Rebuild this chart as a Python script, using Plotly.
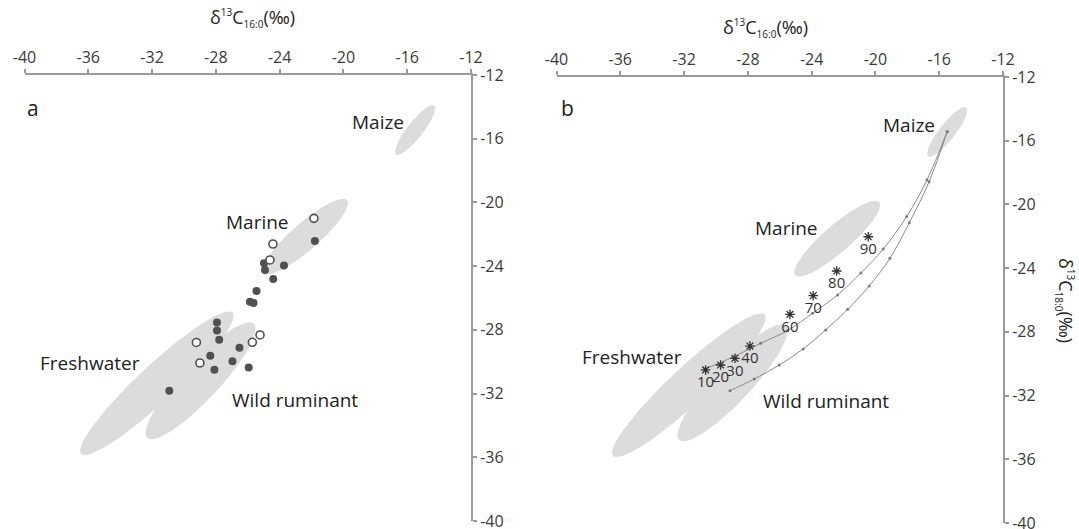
import numpy as np
import plotly.graph_objects as go

# ---------------- data ----------------
# Panel a: sample points (delta13C16:0, delta13C18:0)
open_x = [-21.85, -24.42, -24.61, -25.23, -25.71, -29.22, -29.0]
open_y = [-21.0, -22.61, -23.61, -28.32, -28.78, -28.79, -30.08]
filled_x = [-21.79, -23.73, -24.98, -24.92, -24.40, -25.45, -25.86, -25.64, -27.93,
            -27.93, -27.79, -26.52, -28.35, -26.96, -28.09, -25.94, -30.92]
filled_y = [-22.42, -23.96, -23.82, -24.24, -24.81, -25.56, -26.23, -26.31, -27.54,
            -28.04, -28.62, -29.12, -29.63, -29.97, -30.50, -30.36, -31.82]

# Reference ellipses: name, centre x, centre y, semi-major, semi-minor, angle (deg)
ell_names = ["Maize", "Marine", "Freshwater", "Wild ruminant"]
ell_cx = [-15.5, -22.4, -31.7, -28.96]
ell_cy = [-15.45, -22.15, -31.35, -31.2]
ell_a = [1.95, 3.5, 6.5, 4.9]
ell_b = [0.5, 0.85, 1.15, 1.17]
ell_ang = [52, 41, 43, 47]

# Panel b: mixing curves (0..100 % maize, 10 % steps)
mixF_x = [-30.69, -28.93, -27.20, -25.49, -23.94, -22.37, -20.91, -19.51, -18.04, -16.77, -15.50]
mixF_y = [-30.33, -29.58, -28.72, -27.91, -26.83, -25.68, -24.30, -22.80, -20.76, -18.47, -15.43]
mixW_x = [-29.12, -27.60, -26.03, -24.53, -23.12, -21.74, -20.39, -19.09, -17.88, -16.63, -15.50]
mixW_y = [-31.69, -30.96, -30.08, -29.07, -27.88, -26.58, -25.12, -23.38, -21.15, -18.57, -15.43]

# Panel b: experimental mixtures (asterisks)
ast_x = [-30.65, -29.71, -28.81, -27.87, -25.36, -23.90, -22.43, -20.45]
ast_y = [-30.39, -30.08, -29.66, -28.89, -26.90, -25.73, -24.18, -22.03]
ast_lab = ["10", "20", "30", "40", "60", "70", "80", "90"]

tick_vals = [-40, -36, -32, -28, -24, -20, -16, -12]
tick_text = ["-40", "-36", "-32", "-28", "-24", "-20", "-16", "-12"]

# ---------------- figure ----------------
FONT = "Open Sans"
ELL_COL = "#dcdcdc"
fig = go.Figure()


def ellipse(cx, cy, a, b, ang):
    t = np.linspace(0, 2 * np.pi, 120)
    th = np.deg2rad(ang)
    x = cx + a * np.cos(t) * np.cos(th) - b * np.sin(t) * np.sin(th)
    y = cy + a * np.cos(t) * np.sin(th) + b * np.sin(t) * np.cos(th)
    return x, y


for xa, ya in [("x", "y"), ("x2", "y2")]:
    for i in range(len(ell_names)):
        ex, ey = ellipse(ell_cx[i], ell_cy[i], ell_a[i], ell_b[i], ell_ang[i])
        fig.add_trace(go.Scatter(x=ex, y=ey, mode="lines", fill="toself",
                                 fillcolor=ELL_COL, line=dict(width=0),
                                 hoverinfo="skip", showlegend=False,
                                 xaxis=xa, yaxis=ya))

# panel a points
fig.add_trace(go.Scatter(x=filled_x, y=filled_y, mode="markers",
                         marker=dict(size=8, color="#505050", line=dict(width=0)),
                         showlegend=False, xaxis="x", yaxis="y"))
fig.add_trace(go.Scatter(x=open_x, y=open_y, mode="markers",
                         marker=dict(size=8, color="white", line=dict(width=1.6, color="#505050")),
                         showlegend=False, xaxis="x", yaxis="y"))

# panel b mixing lines
for mx, my in [(mixF_x, mixF_y), (mixW_x, mixW_y)]:
    fig.add_trace(go.Scatter(x=mx, y=my, mode="lines+markers",
                             line=dict(color="#8a8a8a", width=1, shape="spline"),
                             marker=dict(size=3, color="#7a7a7a"),
                             showlegend=False, xaxis="x2", yaxis="y2"))

fig.add_trace(go.Scatter(x=ast_x, y=ast_y, mode="markers+text", text=ast_lab,
                         textposition="bottom center",
                         textfont=dict(family=FONT, size=15, color="#333333"),
                         marker=dict(symbol="asterisk-open", size=8, color="#333333",
                                     line=dict(width=1.3, color="#333333")),
                         showlegend=False, xaxis="x2", yaxis="y2"))

axis_common = dict(range=[-40, -12], showgrid=False, zeroline=False, showline=True,
                   linecolor="#9a9a9a", linewidth=2, ticks="outside", ticklen=4,
                   tickcolor="#9a9a9a", tickwidth=1.5, tickvals=tick_vals, ticktext=tick_text,
                   tickfont=dict(family=FONT, size=16, color="#3a3a3a"),
                   ticklabeloverflow="allow",
                   automargin=False, fixedrange=True)

fig.update_layout(
    width=1079, height=529,
    margin=dict(l=0, r=0, t=0, b=0),
    paper_bgcolor="white", plot_bgcolor="white",
    xaxis=dict(axis_common, side="top", domain=[0.02271, 0.43652], anchor="y"),
    yaxis=dict(axis_common, side="right", domain=[0.015123, 0.858223], anchor="x"),
    xaxis2=dict(axis_common, side="top", domain=[0.51576, 0.92956], anchor="y2"),
    yaxis2=dict(axis_common, side="right", domain=[0.011342, 0.854442], anchor="x2"),
)

LAB = dict(family=FONT, size=19, color="#222222")
labels = [
    ("x", "y", -17.84, -14.95, "Maize"), ("x", "y", -25.42, -21.23, "Marine"),
    ("x", "y", -35.89, -30.08, "Freshwater"), ("x", "y", -23.04, -32.40, "Wild ruminant"),
    ("x2", "y2", -17.90, -15.01, "Maize"), ("x2", "y2", -25.55, -21.48, "Marine"),
    ("x2", "y2", -35.27, -29.58, "Freshwater"), ("x2", "y2", -23.10, -32.34, "Wild ruminant"),
]
for xr, yr, lx, ly, t in labels:
    fig.add_annotation(xref=xr, yref=yr, x=lx, y=ly, text=t, showarrow=False, font=LAB,
                       xanchor="center", yanchor="middle")

fig.add_annotation(xref="x", yref="y", x=-39.45, y=-14.09, text="a", showarrow=False,
                   font=dict(family=FONT, size=21, color="#222222"),
                   xanchor="center", yanchor="middle")
fig.add_annotation(xref="x2", yref="y2", x=-39.34, y=-13.95, text="b", showarrow=False,
                   font=dict(family=FONT, size=21, color="#222222"),
                   xanchor="center", yanchor="middle")

SMALL = '<span style="font-size:10px">'
title16 = 'δ<sup>' + SMALL + '13</span></sup>C<sub>' + SMALL + '16:0</span></sub>(‰)'
title18 = 'δ<sup>' + SMALL + '13</span></sup>C<sub>' + SMALL + '18:0</span></sub>(‰)'
TF = dict(family=FONT, size=18, color="#222222")
fig.add_annotation(xref="paper", yref="paper", x=252 / 1079, y=(529 - 18) / 529,
                   text=title16, showarrow=False, font=TF, xanchor="center", yanchor="middle")
fig.add_annotation(xref="paper", yref="paper", x=765 / 1079, y=(529 - 28) / 529,
                   text=title16, showarrow=False, font=TF, xanchor="center", yanchor="middle")
fig.add_annotation(xref="paper", yref="paper", x=1065 / 1079, y=(529 - 300) / 529,
                   text=title18, showarrow=False, font=TF, textangle=90,
                   xanchor="center", yanchor="middle")

fig.write_html("out.html")
